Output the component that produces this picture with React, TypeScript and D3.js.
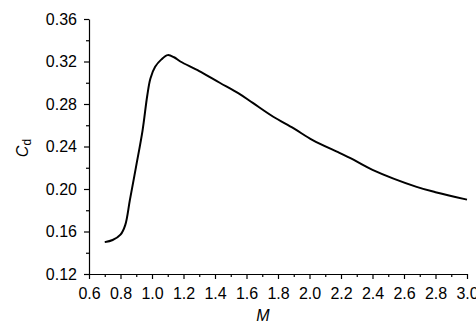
import { useEffect, useRef } from 'react'
import * as d3 from 'd3'

const machNumbers = [0.70, 0.75, 0.80, 0.83, 0.86, 0.90, 0.94, 0.97, 0.99, 1.02, 1.06, 1.10, 1.14, 1.18, 1.30, 1.43, 1.55, 1.64, 1.77, 1.90, 2.02, 2.19, 2.26, 2.40, 2.68, 2.80, 3.00]
const dragCoeff = [0.150, 0.152, 0.157, 0.166, 0.190, 0.222, 0.255, 0.288, 0.304, 0.315, 0.322, 0.326, 0.324, 0.320, 0.311, 0.300, 0.290, 0.281, 0.268, 0.257, 0.246, 0.234, 0.229, 0.218, 0.202, 0.197, 0.190]

const xMajor = [0.6, 0.8, 1.0, 1.2, 1.4, 1.6, 1.8, 2.0, 2.2, 2.4, 2.6, 2.8, 3.0]
const xMinor = [0.7, 0.9, 1.1, 1.3, 1.5, 1.7, 1.9, 2.1, 2.3, 2.5, 2.7, 2.9]
const yMajor = [0.12, 0.16, 0.20, 0.24, 0.28, 0.32, 0.36]
const yMinor = [0.14, 0.18, 0.22, 0.26, 0.30, 0.34]

export default function App() {
  const ref = useRef<SVGSVGElement>(null)

  useEffect(() => {
    const svg = d3.select(ref.current!)
    svg.selectAll('*').remove()
    const W = 476, H = 325
    const m = { t: 19, r: 9, b: 51, l: 89 }
    const iW = W - m.l - m.r, iH = H - m.t - m.b
    const g = svg.append('g').attr('transform', `translate(${m.l},${m.t})`)
    const font = '"Liberation Sans", Arial, sans-serif'

    const x = d3.scaleLinear().domain([0.6, 3.0]).range([0, iW])
    const y = d3.scaleLinear().domain([0.12, 0.36]).range([iH, 0])

    // minor ticks
    g.append('g').attr('transform', `translate(0,${iH})`)
      .call(d3.axisBottom(x).tickValues(xMinor).tickSize(3).tickFormat(() => ''))
      .call(s => s.select('.domain').remove())
    g.append('g')
      .call(d3.axisLeft(y).tickValues(yMinor).tickSize(3).tickFormat(() => ''))
      .call(s => s.select('.domain').remove())

    // major axes
    const xa = g.append('g').attr('transform', `translate(0,${iH})`)
      .call(d3.axisBottom(x).tickValues(xMajor).tickSize(5).tickSizeOuter(0).tickPadding(9).tickFormat(d3.format('.1f')))
    xa.selectAll('text').attr('font-size', 16).attr('font-family', font).attr('fill', '#000')
    const ya = g.append('g')
      .call(d3.axisLeft(y).tickValues(yMajor).tickSize(5).tickSizeOuter(0).tickPadding(7).tickFormat(d3.format('.2f')))
    ya.selectAll('text').attr('font-size', 16).attr('font-family', font).attr('fill', '#000')
    svg.selectAll('.domain, .tick line').attr('stroke', '#000').attr('stroke-width', 1.2)

    const line = d3.line<number>().x((_, i) => x(machNumbers[i])).y(v => y(v)).curve(d3.curveCatmullRom.alpha(0.5))
    g.append('path').datum(dragCoeff).attr('fill', 'none').attr('stroke', '#000')
      .attr('stroke-width', 2).attr('stroke-linejoin', 'round').attr('d', line)

    // axis titles
    svg.append('text').attr('x', 263).attr('y', 321).attr('text-anchor', 'middle')
      .attr('font-family', font).attr('font-size', 16).attr('font-style', 'italic').text('M')
    const yt = svg.append('text').attr('transform', 'translate(28,148) rotate(-90)').attr('text-anchor', 'middle')
      .attr('font-family', font).attr('font-size', 16)
    yt.append('tspan').attr('font-style', 'italic').text('C')
    yt.append('tspan').attr('font-size', 12).attr('dy', 3).text('d')
  }, [])

  return <svg ref={ref} width={476} height={325} style={{ position: 'absolute', left: 0, top: 0, background: '#fff' }} />
}
